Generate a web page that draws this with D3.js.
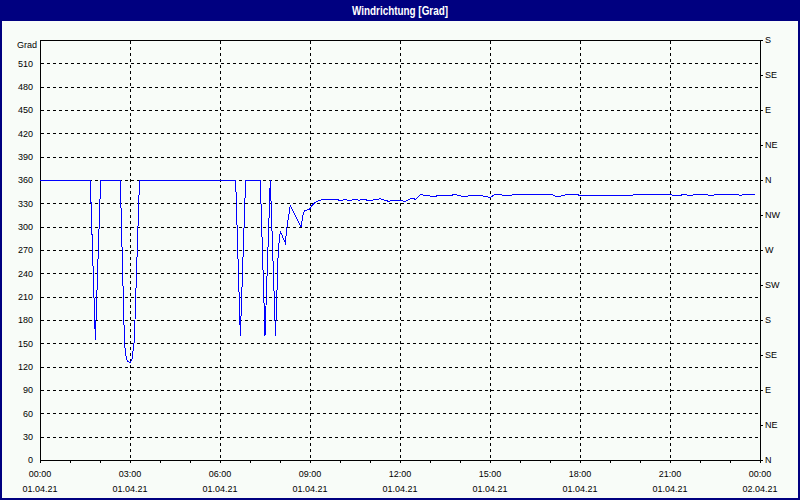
<!DOCTYPE html>
<html><head><meta charset="utf-8">
<script src="https://cdn.jsdelivr.net/npm/d3@7"></script>
<style>
html,body{margin:0;padding:0;background:#f8fcf8;}
svg{display:block;}
text{font-family:"Liberation Sans",Arial,sans-serif;font-size:9px;fill:#000;}
</style></head>
<body>
<svg id="chart" width="800" height="500"></svg>
<script>
// ---- data (minutes after 01.04.21 00:00, wind direction in degrees) ----
const minutes = [0,100.6,110.7,121.3,160.6,169,171.4,175,180,184,188,190,199,
  391.3,400.7,411.3,440.6,450,460.6,471,472.6,476.6,480.6,490.6,494,500.6,522,
  526.6,530,538.6,543.4,550,556.6,566.6,593,598.7,605,610,615,623,630,637,647,657,667,675,
  680,687,695,700,708,715,720,723,730,735,740,747,751,758,761,768,775,783,788,793,
  800,806.7,816.7,823.3,828.7,833.3,846.7,856.7,866.7,873.3,878.7,886.7,893.3,898.7,903.3,
  910,923.3,943.3,956.7,1023.3,1030,1040,1050,1060,1073.3,1080,1085.3,1093.3,1186.7,1190,
  1260,1266.7,1280,1290,1296.7,1306.7,1316.7,1333.3,1336.7,1346.7,1353.3,1373.3,1393.3,
  1400,1406.7,1430];
const degrees = [360,360,154,360,360,150,135,127,125,130,150,180,360,
  360,160,360,360,160,360,160,190,270,294,279,300,327,300,
  317,321,322,326.6,330.8,333.4,335,335,334,334,335,334,334,335.6,334,334.7,334,334.3,334.3,
  336,334.3,333,333,334.3,333.9,334.3,333.4,332.6,333.9,335.6,336,335.1,339,341.6,340.3,339.9,339,338.6,339.4,
  340.7,340.7,339.9,340.3,341.6,340.7,338.6,339.4,340.7,339.9,339.9,339.4,339.4,337.3,338.6,
  341.6,340.7,340.7,341.6,341.6,339.4,339,340.7,341.6,341.6,339.9,340.7,340.7,340.7,341.6,
  341.6,340.3,340.3,341.6,340.3,340.7,341.6,341.6,340.3,340.3,341.6,341.6,341.6,
  340.3,341.1,341.6];
const yTickValues = [0,30,60,90,120,150,180,210,240,270,300,330,360,390,420,450,480,510];
const dirValues = [0,45,90,135,180,225,270,315,360,405,450,495,540];
const dirLabels = ["N","NE","E","SE","S","SW","W","NW","N","NE","E","SE","S"];
const xTickHours = [0,3,6,9,12,15,18,21,24];
const xTimeLabels = ["00:00","03:00","06:00","09:00","12:00","15:00","18:00","21:00","00:00"];
const xDateLabels = ["01.04.21","01.04.21","01.04.21","01.04.21","01.04.21","01.04.21","01.04.21","01.04.21","02.04.21"];
const title = "Windrichtung [Grad]";
const yUnit = "Grad";

const W = 800, H = 500;
const m = {left:40, right:40, top:40, bottom:40};
const svg = d3.select("#chart");
const t0 = new Date(2021,3,1,0,0);
const t1 = new Date(2021,3,2,0,0);
const x = d3.scaleTime().domain([t0,t1]).range([m.left, W - m.right]);
const y = d3.scaleLinear().domain([0,540]).range([H - m.bottom, m.top]);
const tAt = mm => new Date(t0.getTime() + mm*60000);

// background & window frame
svg.append("rect").attr("x",0).attr("y",0).attr("width",W).attr("height",H).attr("fill","#f8fcf8");
svg.append("rect").attr("x",0).attr("y",0).attr("width",W).attr("height",21).attr("fill","#000080");
svg.append("rect").attr("x",0).attr("y",0).attr("width",2).attr("height",H).attr("fill","#000080");
svg.append("rect").attr("x",W-2).attr("y",0).attr("width",2).attr("height",H).attr("fill","#000080");
svg.append("rect").attr("x",0).attr("y",H-2).attr("width",W).attr("height",2).attr("fill","#000080");
svg.append("text").attr("x",W/2).attr("y",15).attr("text-anchor","middle")
  .style("font-weight","bold").style("font-size","12px").style("fill","#ffffff")
  .attr("textLength",96).attr("lengthAdjust","spacingAndGlyphs").text(title);

// grid
const grid = svg.append("g").attr("shape-rendering","crispEdges").attr("stroke","#000").attr("stroke-dasharray","3,3");
grid.selectAll("line.h").data(yTickValues.filter(v=>v>0)).join("line")
  .attr("x1",m.left+1).attr("x2",W-m.right).attr("y1",d=>Math.round(y(d))+0.5).attr("y2",d=>Math.round(y(d))+0.5);
grid.selectAll("line.v").data(xTickHours.filter(h=>h>0&&h<24)).join("line")
  .attr("y1",m.top+1).attr("y2",H-m.bottom).attr("x1",d=>Math.round(x(tAt(d*60)))+0.5).attr("x2",d=>Math.round(x(tAt(d*60)))+0.5);

// top frame line
svg.append("line").attr("x1",m.left).attr("x2",W-m.right).attr("y1",m.top+0.5).attr("y2",m.top+0.5)
  .attr("stroke","#000").attr("shape-rendering","crispEdges");

// axes
const axL = svg.append("g").attr("transform",`translate(${m.left},0)`)
  .call(d3.axisLeft(y).tickValues(yTickValues).tickSize(0).tickSizeOuter(0).tickPadding(7));
axL.selectAll("text").style("font-family","Liberation Sans, Arial, sans-serif").style("font-size","9px");
axL.select(".domain").attr("shape-rendering","crispEdges");
svg.append("text").attr("x",17).attr("y",48).text(yUnit);

const axR = svg.append("g").attr("transform",`translate(${W-m.right},0)`)
  .call(d3.axisRight(y).tickValues(dirValues).tickFormat((d,i)=>dirLabels[i]).tickSize(3).tickSizeOuter(0).tickPadding(2));
axR.selectAll("text").style("font-family","Liberation Sans, Arial, sans-serif").style("font-size","9px");
axR.selectAll("path,line").attr("shape-rendering","crispEdges");

const axB = svg.append("g").attr("transform",`translate(0,${H-m.bottom})`)
  .call(d3.axisBottom(x).ticks(d3.timeHour.every(1)).tickSize(3).tickSizeOuter(0).tickFormat(""));
axB.selectAll("path,line").attr("shape-rendering","crispEdges");

const lbl = svg.append("g");
lbl.selectAll("text.t").data(xTickHours).join("text").attr("class","t")
  .attr("x",d=>x(tAt(d*60))).attr("y",477).attr("text-anchor","middle").text((d,i)=>xTimeLabels[i]);
lbl.selectAll("text.d").data(xTickHours).join("text").attr("class","d")
  .attr("x",d=>x(tAt(d*60))).attr("y",492).attr("text-anchor","middle").text((d,i)=>xDateLabels[i]);

// data line
const pts = minutes.map((mm,i)=>[tAt(mm), degrees[i]]);
svg.append("path").datum(pts)
  .attr("fill","none").attr("stroke","#0000ff").attr("stroke-width",1)
  .attr("shape-rendering","crispEdges")
  .attr("d", d3.line().x(d=>x(d[0])).y(d=>y(d[1])));
</script>
</body></html>
